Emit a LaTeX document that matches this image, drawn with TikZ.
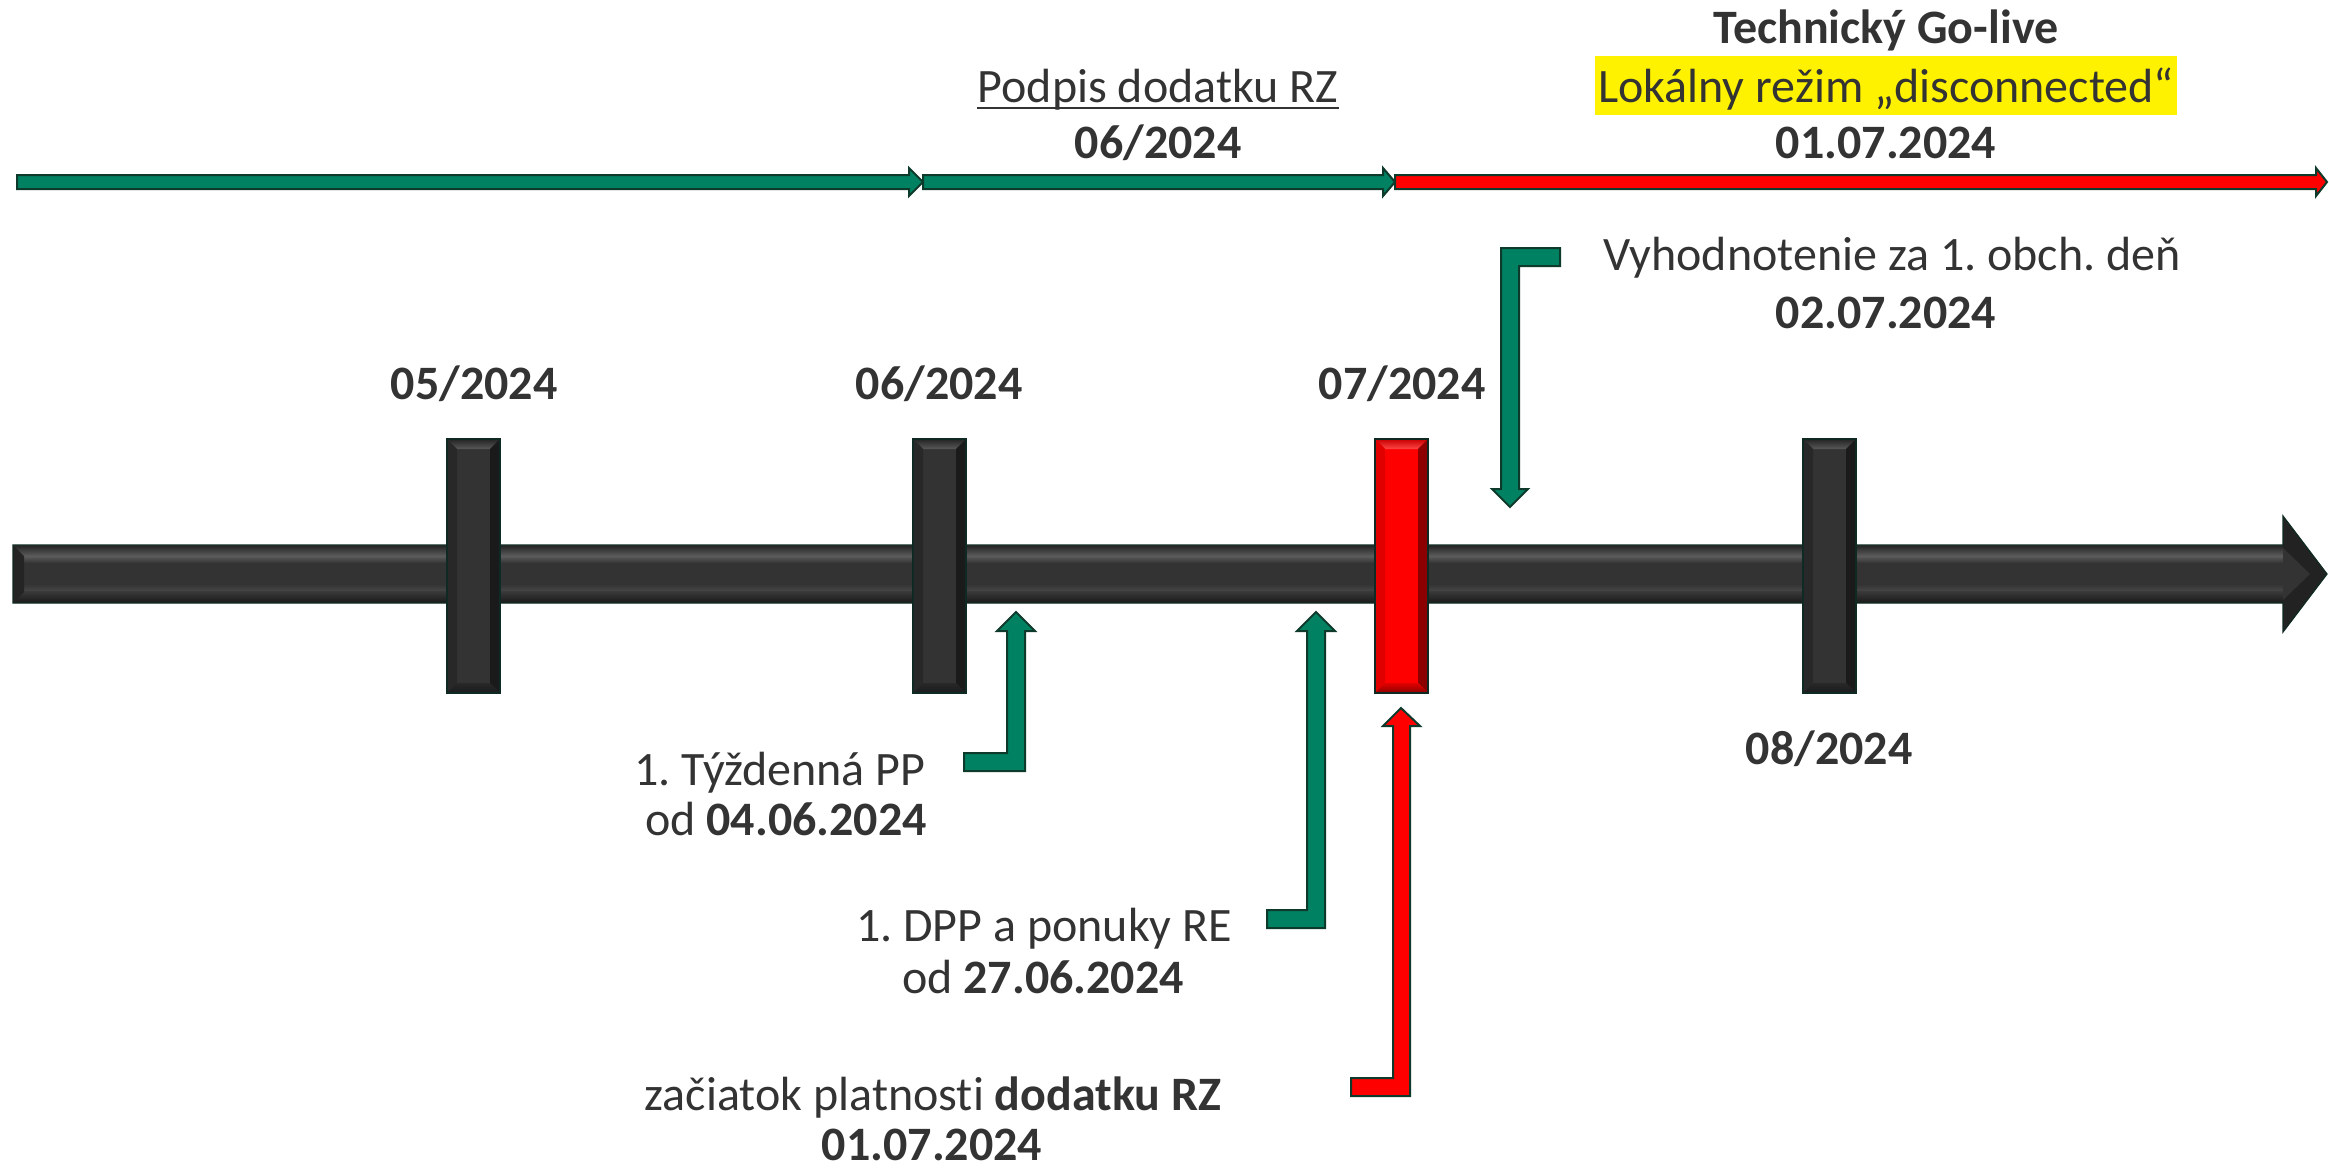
\documentclass[tikz,border=0pt]{standalone}
\usepackage{fontspec}
\setmainfont{Carlito}[Ligatures={TeX,NoCommon}]
\frenchspacing
\definecolor{txt}{HTML}{333333}
\definecolor{grn}{RGB}{0,130,98}
\definecolor{grnline}{RGB}{14,58,44}
\definecolor{edgec}{HTML}{0F2A22}
\definecolor{gface}{RGB}{51,51,51}
\definecolor{glight}{RGB}{88,88,88}
\definecolor{gleft}{RGB}{40,40,40}
\definecolor{gdark}{RGB}{26,26,26}
\definecolor{gtop}{RGB}{36,36,36}
\definecolor{rface}{RGB}{255,0,0}
\definecolor{rlight}{RGB}{255,70,70}
\definecolor{rleft}{RGB}{225,0,0}
\definecolor{rdark}{RGB}{140,0,0}
\definecolor{rtop}{RGB}{200,0,0}
\definecolor{bA}{RGB}{40,40,40}
\definecolor{bB}{RGB}{92,92,92}
\definecolor{bC}{RGB}{70,70,70}
\definecolor{bD}{RGB}{58,58,58}
\definecolor{bE}{RGB}{28,28,28}
\definecolor{bF}{RGB}{36,36,36}
\definecolor{bG}{RGB}{34,34,34}
\newcommand\mytickbar[6]{%
  \fill[#2] (#1,439) rectangle ++(53,254);
  \shade[top color=#6, bottom color=#3] (#1,439) -- ++(53,0) -- ++(-10,10) -- ++(-33,0) -- cycle;
  \fill[#4] (#1,439) -- ++(10,10) -- ++(0,234) -- ++(-10,10) -- cycle;
  \fill[#5] (#1+53,439) -- ++(-10,10) -- ++(0,234) -- ++(10,10) -- cycle;
  \shade[top color=#4, bottom color=#5] (#1,693) -- ++(10,-10) -- ++(33,0) -- ++(10,10) -- cycle;
  \draw[edgec, line width=0.6pt] (#1,439) rectangle ++(53,254);
}
\begin{document}
\begin{tikzpicture}[x=0.5pt,y=-0.5pt,
  lbl/.style={text=txt, font=\fontsize{24}{25}\selectfont, inner sep=0pt, anchor=base},
  garrow/.style={fill=grn, draw=grnline, line width=1pt, line join=miter},
  rarrow/.style={fill=red, draw=grnline, line width=1pt, line join=miter}]
\useasboundingbox (0,0) rectangle (2329,1168);

% ---------- top phase arrows ----------
\draw[garrow] (17,175) -- (909,175) -- (909,168) -- (923,182) -- (909,196) -- (909,189) -- (17,189) -- cycle;
\draw[garrow] (923,175) -- (1383,175) -- (1383,168) -- (1395,182) -- (1383,196) -- (1383,189) -- (923,189) -- cycle;
\draw[rarrow] (1395,175) -- (2316,175) -- (2316,168) -- (2327,182) -- (2316,196) -- (2316,189) -- (1395,189) -- cycle;

% ---------- main timeline bar ----------
\fill[gface] (13,545) -- (2283,545) -- (2283,516) -- (2327,574) -- (2283,632) -- (2283,603) -- (13,603) -- cycle;
\shade[top color=bA, bottom color=bB] (14,546) rectangle (2283,556);
\shade[top color=bB, bottom color=gface] (14,556) rectangle (2283,563);
\shade[top color=gface, bottom color=bC] (14,584) rectangle (2283,591);
\shade[top color=bD, bottom color=bE] (14,591) rectangle (2283,602);
\fill[bF] (13,545) -- (24,556) -- (24,592) -- (13,603) -- cycle;
\fill[bG] (2283,516) -- (2327,574) -- (2283,632) -- cycle;
\fill[gface] (2283,548) -- (2310,574) -- (2283,600) -- cycle;
\draw[edgec, line width=0.6pt, line join=miter] (13,545) -- (2283,545) -- (2283,516) -- (2327,574) -- (2283,632) -- (2283,603) -- (13,603) -- cycle;

% ---------- month ticks ----------
\mytickbar{447}{gface}{glight}{gleft}{gdark}{gtop}
\mytickbar{913}{gface}{glight}{gleft}{gdark}{gtop}
\mytickbar{1375}{rface}{rlight}{rleft}{rdark}{rtop}
\mytickbar{1803}{gface}{glight}{gleft}{gdark}{gtop}

% ---------- month labels ----------
\node[lbl] (m05) at (474,399) {\textbf{05/2024}};
\node[lbl] (m06) at (939,399) {\textbf{06/2024}};
\node[lbl] (m07) at (1402,399) {\textbf{07/2024}};
\node[lbl] (m08) at (1829,764) {\textbf{08/2024}};

% ---------- top labels ----------
\node[lbl] (pd1) at (1158,102) {Podpis dodatku RZ};
\draw[txt, line width=0.9pt] ([yshift=-3pt]pd1.base west) -- ([yshift=-3pt]pd1.base east);
\node[lbl] (pd2) at (1158,158) {\textbf{06/2024}};
\node[lbl] (tg1) at (1886,43) {\textbf{Technický Go-live}};
\node[lbl, fill=yellow, text height=23pt, text depth=6.5pt, inner xsep=1.5pt] (tg2) at (1886,102) {Lokálny režim „disconnected“};
\node[lbl] (tg3) at (1886,158) {\textbf{01.07.2024}};

% ---------- bent arrows ----------
\draw[garrow] (1510,507) -- (1528,489) -- (1519,489) -- (1519,266) -- (1560,266) -- (1560,248) -- (1501,248) -- (1501,489) -- (1492,489) -- cycle;
\draw[garrow] (1016,612) -- (1035,631) -- (1025,631) -- (1025,771) -- (964,771) -- (964,753) -- (1007,753) -- (1007,631) -- (997,631) -- cycle;
\draw[garrow] (1316,612) -- (1335,631) -- (1325,631) -- (1325,928) -- (1267,928) -- (1267,910) -- (1307,910) -- (1307,631) -- (1297,631) -- cycle;
\draw[rarrow] (1401,708) -- (1420,726) -- (1410,726) -- (1410,1096) -- (1351,1096) -- (1351,1078) -- (1393,1078) -- (1393,726) -- (1383,726) -- cycle;

% ---------- event labels ----------
\node[lbl] (vy1) at (1892,270) {Vyhodnotenie za 1. obch. deň};
\node[lbl] (vy2) at (1886,328) {\textbf{02.07.2024}};
\node[lbl] (tp1) at (780,785) {1. Týždenná PP};
\node[lbl] (tp2) at (786,835) {od \textbf{04.06.2024}};
\node[lbl] (dp1) at (1044,941) {1. DPP a ponuky RE};
\node[lbl] (dp2) at (1043,993) {od \textbf{27.06.2024}};
\node[lbl] (za1) at (933,1110) {začiatok platnosti \textbf{dodatku RZ}};
\node[lbl] (za2) at (932,1160) {\textbf{01.07.2024}};
\end{tikzpicture}
\end{document}
